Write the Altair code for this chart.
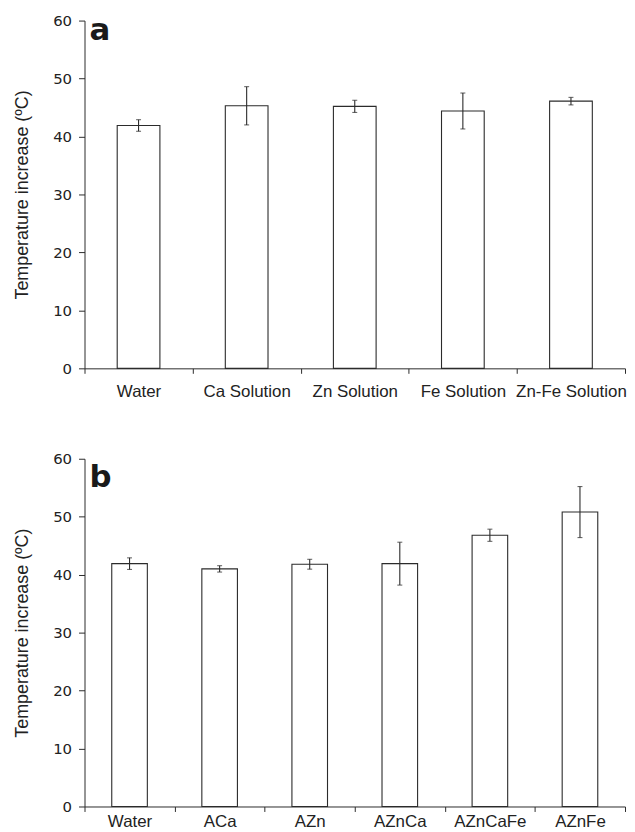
import altair as alt
import pandas as pd

# Panel a
a_cats = ["Water", "Ca Solution", "Zn Solution", "Fe Solution", "Zn-Fe Solution"]
a_vals = [41.9, 45.3, 45.2, 44.4, 46.1]
a_err = [1.0, 3.3, 1.05, 3.1, 0.65]

# Panel b
b_cats = ["Water", "ACa", "AZn", "AZnCa", "AZnCaFe", "AZnFe"]
b_vals = [41.9, 41.0, 41.8, 41.9, 46.8, 50.8]
b_err = [1.0, 0.55, 0.85, 3.7, 1.05, 4.4]

panel_letters = ["a", "b"]
y_ticks = [0, 10, 20, 30, 40, 50, 60]
y_title = "Temperature increase (\u00baC)"

INK = "#2b2b2b"


def panel(cats, vals, errs, letter, label_pad, letter_y):
    df = pd.DataFrame({
        "cat": cats,
        "val": vals,
        "lo": [v - e for v, e in zip(vals, errs)],
        "hi": [v + e for v, e in zip(vals, errs)],
    })
    x = alt.X(
        "cat:N",
        sort=cats,
        title=None,
        scale=alt.Scale(paddingInner=0, paddingOuter=0),
        axis=alt.Axis(
            tickBand="extent",
            labelAngle=0,
            labelFont="Liberation Sans",
            labelFontSize=17,
            labelColor="#222222",
            labelPadding=label_pad,
            tickSize=5,
            tickColor=INK,
            domainColor=INK,
            labelOverlap=False,
            labelBound=False,
        ),
    )
    y_axis = alt.Axis(
        values=y_ticks,
        grid=False,
        tickSize=6,
        tickColor=INK,
        domainColor=INK,
        labelFont="DejaVu Sans",
        labelFontSize=15,
        labelColor="#222222",
        labelPadding=7,
        titleFont="Liberation Sans",
        titleFontSize=18,
        titleFontWeight="normal",
        titleColor="#222222",
        titlePadding=21,
    )
    base = alt.Chart(df)
    bars = base.mark_bar(
        width=alt.RelativeBandSize(0.395),
        fill="white",
        stroke=INK,
        strokeWidth=1.1,
    ).encode(
        x=x,
        y=alt.Y("val:Q", title=y_title, scale=alt.Scale(domain=[0, 60], nice=False), axis=y_axis),
    )
    rules = base.mark_rule(color=INK, strokeWidth=1.1).encode(
        x=alt.X("cat:N", sort=cats),
        y="lo:Q",
        y2="hi:Q",
    )
    caps_lo = base.mark_tick(color=INK, size=5, thickness=1.1).encode(
        x=alt.X("cat:N", sort=cats), y="lo:Q"
    )
    caps_hi = base.mark_tick(color=INK, size=5, thickness=1.1).encode(
        x=alt.X("cat:N", sort=cats), y="hi:Q"
    )
    letter_df = pd.DataFrame({"label": [letter]})
    text = alt.Chart(letter_df).mark_text(
        font="DejaVu Sans",
        fontSize=31,
        fontWeight="bold",
        color="#1a1a1a",
        align="left",
        baseline="alphabetic",
    ).encode(text="label:N", x=alt.value(5), y=alt.value(letter_y))
    return alt.layer(bars, rules, caps_lo, caps_hi, text).properties(width=544, height=350)


top = panel(a_cats, a_vals, a_err, panel_letters[0], 10, 20)
bottom = panel(b_cats, b_vals, b_err, panel_letters[1], 2, 28)

chart = alt.vconcat(top, bottom, spacing=53).resolve_scale(x="independent").configure_view(
    stroke=None
).properties(padding={"left": 5, "top": 3, "right": 0, "bottom": 0})

chart.save("out.html", embed_options={"renderer": "svg", "actions": False})
